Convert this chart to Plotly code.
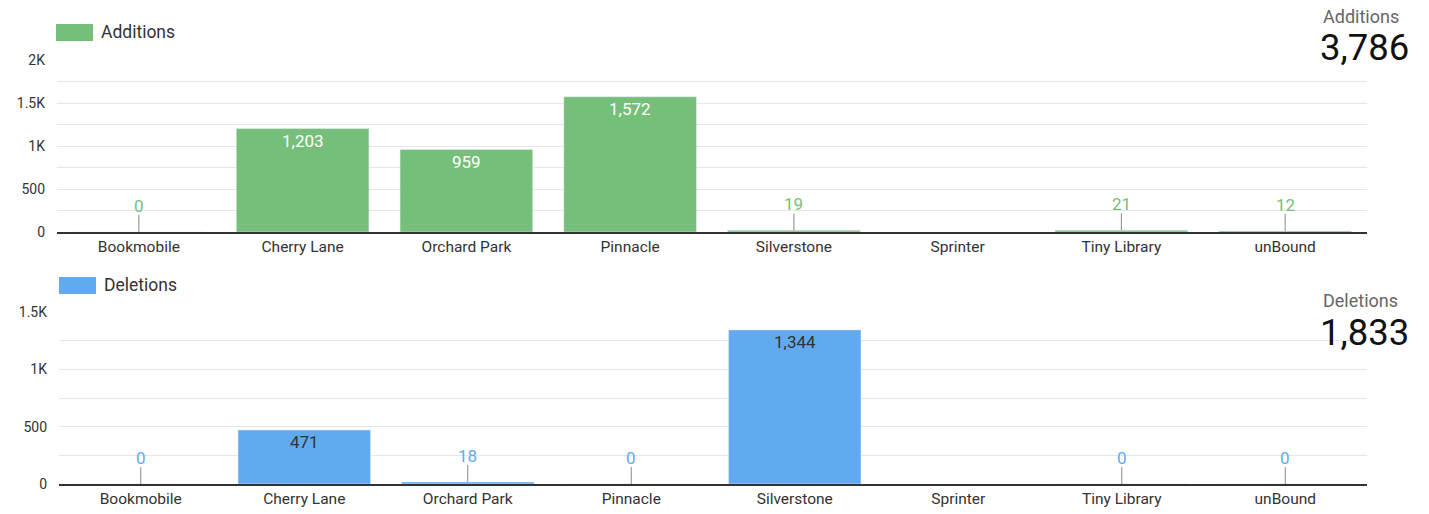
import plotly.graph_objects as go

categories = ["Bookmobile", "Cherry Lane", "Orchard Park", "Pinnacle",
              "Silverstone", "Sprinter", "Tiny Library", "unBound"]
additions = [0, 1203, 959, 1572, 19, None, 21, 12]
deletions = [0, 471, 18, 0, 1344, None, 0, 0]

add_ticks = [0, 500, 1000, 1500, 2000]
add_ticktext = ["0", "500", "1K", "1.5K", "2K"]
del_ticks = [0, 500, 1000, 1500]
del_ticktext = ["0", "500", "1K", "1.5K"]

GREEN = "#76BF7A"
BLUE = "#62AAF0"
FONT = "Roboto"
W, H = 1429, 514

def px_x(p):
    return p / W

def px_y(p):
    return 1 - p / H

fig = go.Figure()

fig.add_trace(go.Bar(x=categories, y=additions, marker_color=GREEN,
                     xaxis="x", yaxis="y", showlegend=False, hoverinfo="x+y"))
fig.add_trace(go.Bar(x=categories, y=deletions, marker_color=BLUE,
                     xaxis="x2", yaxis="y2", showlegend=False, hoverinfo="x+y"))

annotations = []
shapes = []

def add_labels(vals, xref, yref, color, inside_color, threshold):
    for c, v in zip(categories, vals):
        if v is None:
            continue
        txt = f"{v:,}"
        if v >= threshold:
            annotations.append(dict(x=c, y=v, xref=xref, yref=yref, text=txt,
                                    showarrow=False, yshift=-12, yanchor="middle",
                                    font=dict(family=FONT, size=17, color=inside_color)))
        else:
            annotations.append(dict(x=c, y=v, xref=xref, yref=yref, text=txt,
                                    showarrow=False, yshift=26, yanchor="middle",
                                    font=dict(family=FONT, size=17, color=color)))
            shapes.append(dict(type="line", xref=xref, yref=yref,
                               x0=c, x1=c, ysizemode="pixel", yanchor=v,
                               y0=0, y1=17, line=dict(color="#888888", width=1)))

add_labels(additions, "x", "y", GREEN, "#FFFFFF", 200)
add_labels(deletions, "x2", "y2", BLUE, "#333333", 200)

def paper_text(x, y, text, size, color, xanchor):
    annotations.append(dict(x=px_x(x), y=px_y(y), xref="paper", yref="paper",
                            text=text, showarrow=False, xanchor=xanchor, yanchor="middle",
                            font=dict(family=FONT, size=size, color=color)))

# Legends (drawn manually)
shapes.append(dict(type="rect", xref="paper", yref="paper",
                   x0=px_x(56), x1=px_x(93), y0=px_y(41), y1=px_y(24),
                   fillcolor=GREEN, line=dict(width=0)))
paper_text(99, 32, "Additions", 17.5, "#333333", "left")
shapes.append(dict(type="rect", xref="paper", yref="paper",
                   x0=px_x(59), x1=px_x(96), y0=px_y(294), y1=px_y(277),
                   fillcolor=BLUE, line=dict(width=0)))
paper_text(102, 285, "Deletions", 17.5, "#333333", "left")

# Scorecards
total_add = sum(v for v in additions if v is not None)
total_del = sum(v for v in deletions if v is not None)
paper_text(1401, 16, "Additions", 18, "#666666", "right")
paper_text(1411, 47, f"{total_add:,}", 36.5, "#111111", "right")
paper_text(1400, 300, "Deletions", 18, "#666666", "right")
paper_text(1411, 332, f"{total_del:,}", 36.5, "#111111", "right")

xcommon = dict(type="category", showgrid=False, showline=True, linecolor="#333333",
               linewidth=1.5, ticks="", tickfont=dict(family=FONT, size=15.5, color="#333333"),
               fixedrange=True, automargin=False)
ycommon = dict(showgrid=True, gridcolor="#E6E6E6", gridwidth=1, zeroline=False,
               showline=False, ticks="", tickfont=dict(family=FONT, size=14, color="#333333"),
               ticklabelstandoff=11, fixedrange=True, automargin=False)

fig.update_layout(
    width=W, height=H,
    margin=dict(l=0, r=0, t=0, b=0, pad=0, autoexpand=False),
    paper_bgcolor="white", plot_bgcolor="white",
    bargap=0.19,
    xaxis=dict(**xcommon, domain=[px_x(57), px_x(1367)], anchor="y"),
    yaxis=dict(**ycommon, domain=[px_y(232), px_y(60)], range=[0, 2000],
               tickvals=add_ticks, ticktext=add_ticktext, anchor="x",
               minor=dict(dtick=250, tick0=0, showgrid=True, gridcolor="#E6E6E6", gridwidth=1)),
    xaxis2=dict(**xcommon, domain=[px_x(59), px_x(1367)], anchor="y2"),
    yaxis2=dict(**ycommon, domain=[px_y(484), px_y(312)], range=[0, 1500],
                tickvals=del_ticks, ticktext=del_ticktext, anchor="x2",
                minor=dict(dtick=250, tick0=0, showgrid=True, gridcolor="#E6E6E6", gridwidth=1)),
    annotations=annotations,
    shapes=shapes,
)

fig.write_html("out.html")
